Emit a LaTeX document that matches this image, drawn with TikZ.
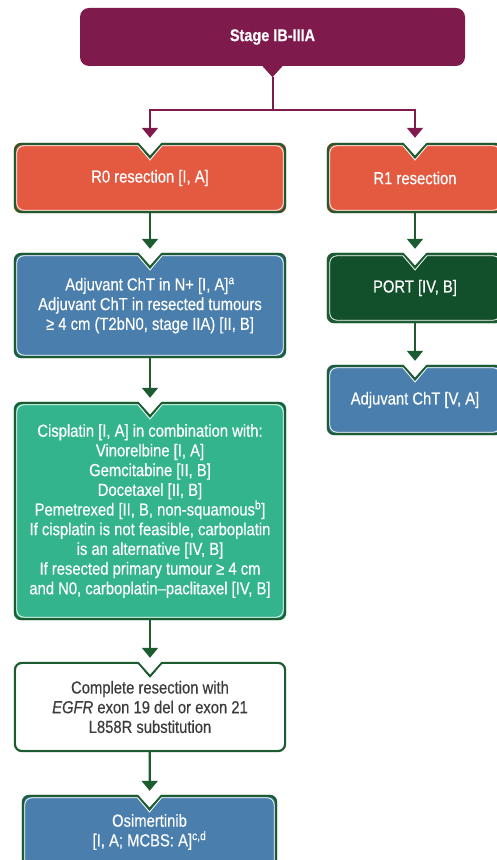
\documentclass[tikz,border=0pt]{standalone}
\usepackage{fontspec}
\setmainfont{Liberation Sans}[FakeStretch=0.85, FakeBold=0.4]
\usetikzlibrary{arrows.meta,backgrounds}

\definecolor{stagepurple}{RGB}{127,26,77}
\definecolor{resred}{RGB}{227,90,65}
\definecolor{chtblue}{RGB}{74,126,172}
\definecolor{cisteal}{RGB}{52,180,140}
\definecolor{portgreen}{RGB}{18,79,43}
\definecolor{edgegreen}{RGB}{29,91,48}
\definecolor{textgray}{RGB}{60,60,60}

% outline of a box with the notch on top, #2 = inset
\newcommand{\notchpath}[2]{([yshift=-13pt-1.4*#2]#1.north)
  -- ([shift={(12pt,-#2)}]#1.north) [rounded corners=7pt]
  -- ([shift={(-#2,-#2)}]#1.north east)
  -- ([shift={(-#2,#2)}]#1.south east)
  -- ([shift={(#2,#2)}]#1.south west)
  -- ([shift={(#2,-#2)}]#1.north west) [sharp corners]
  -- ([shift={(-12pt,-#2)}]#1.north) -- cycle}
\newcommand{\flowbox}[2]{%
  \fill[#2] \notchpath{#1}{0pt};
  \draw[edgegreen, line width=2.2pt] \notchpath{#1}{1.1pt};
  \draw[white, line width=.8pt] \notchpath{#1}{3pt};}

\begin{document}
\begin{tikzpicture}[x=1pt, y=1pt,
    txt/.style={font=\fontsize{17.4}{19.7}\selectfont, text=white, align=center,
      inner sep=0pt},
    leftbox/.style={txt, minimum width=272pt},
    rightbox/.style={txt, minimum width=176pt, minimum height=70pt},
    arr/.style={edgegreen, line width=2.2pt, shorten >=4pt,
      -{Triangle[width=16pt,length=10pt]}},
    magarr/.style={stagepurple, line width=2pt, shorten >=5pt,
      -{Triangle[width=16pt,length=10pt]}}]
  \useasboundingbox (0,0) rectangle (496,860);

  \node[txt, font=\fontsize{17}{19.7}\selectfont\bfseries, fill=stagepurple,
    rounded corners=9pt, minimum width=385pt, minimum height=58pt]
    (stage) at (272.5,823) {Stage IB-IIIA};
  \fill[stagepurple] ([xshift=-10pt]stage.south) -- ([xshift=10pt]stage.south)
    -- ([yshift=-11pt]stage.south) -- cycle;
  \coordinate (tip) at ([yshift=-11pt]stage.south);
  \coordinate (split) at ([yshift=-44pt]stage.south);

  \node[leftbox, minimum height=70pt] (r0) at (150,682) {R0 resection [I, A]};
  \node[rightbox] (r1) at (415,682) {R1 resection};
  \node[leftbox, minimum height=105pt] (adj) at (150,554.5)
    {Adjuvant ChT in N+ [I, A]\textsuperscript{a}\\
     Adjuvant ChT in resected tumours\\
     ≥ 4 cm (T2bN0, stage IIA) [II, B]};
  \node[rightbox] (port) at (415,572) {PORT [IV, B]};
  \node[rightbox] (adjr) at (415,460) {Adjuvant ChT [V, A]};
  \node[leftbox, minimum height=218pt] (cis) at (150,349)
    {Cisplatin [I, A] in combination with:\\
     Vinorelbine [I, A]\\
     Gemcitabine [II, B]\\
     Docetaxel [II, B]\\
     Pemetrexed [II, B, non-squamous\textsuperscript{b}]\\
     If cisplatin is not feasible, carboplatin\\
     is an alternative [IV, B]\\
     If resected primary tumour ≥ 4 cm\\
     and N0, carboplatin–paclitaxel [IV, B]};
  \node[leftbox, minimum height=90pt, text=textgray] (egfr) at (150,153)
    {Complete resection with\\
     \textit{EGFR} exon 19 del or exon 21\\
     L858R substitution};
  \node[txt, minimum width=255pt, minimum height=74pt] (osi) at (149.5,28)
    {Osimertinib\\
     {[I, A; MCBS: A]\textsuperscript{c,d}}};

  \begin{scope}[on background layer]
    \flowbox{r0}{resred}
    \flowbox{r1}{resred}
    \flowbox{adj}{chtblue}
    \flowbox{port}{portgreen}
    \flowbox{adjr}{chtblue}
    \flowbox{cis}{cisteal}
    \flowbox{egfr}{white}
    \flowbox{osi}{chtblue}
  \end{scope}

  \draw[stagepurple, line width=2pt] (tip) -- (split);
  \draw[magarr] (split) -| (r0.north);
  \draw[magarr] (split) -| (r1.north);

  \draw[arr] (r0) -- (adj);
  \draw[arr] (adj) -- (cis);
  \draw[arr] (cis) -- (egfr);
  \draw[arr] (egfr) -- (osi);
  \draw[arr] (r1) -- (port);
  \draw[arr] (port) -- (adjr);
\end{tikzpicture}
\end{document}
